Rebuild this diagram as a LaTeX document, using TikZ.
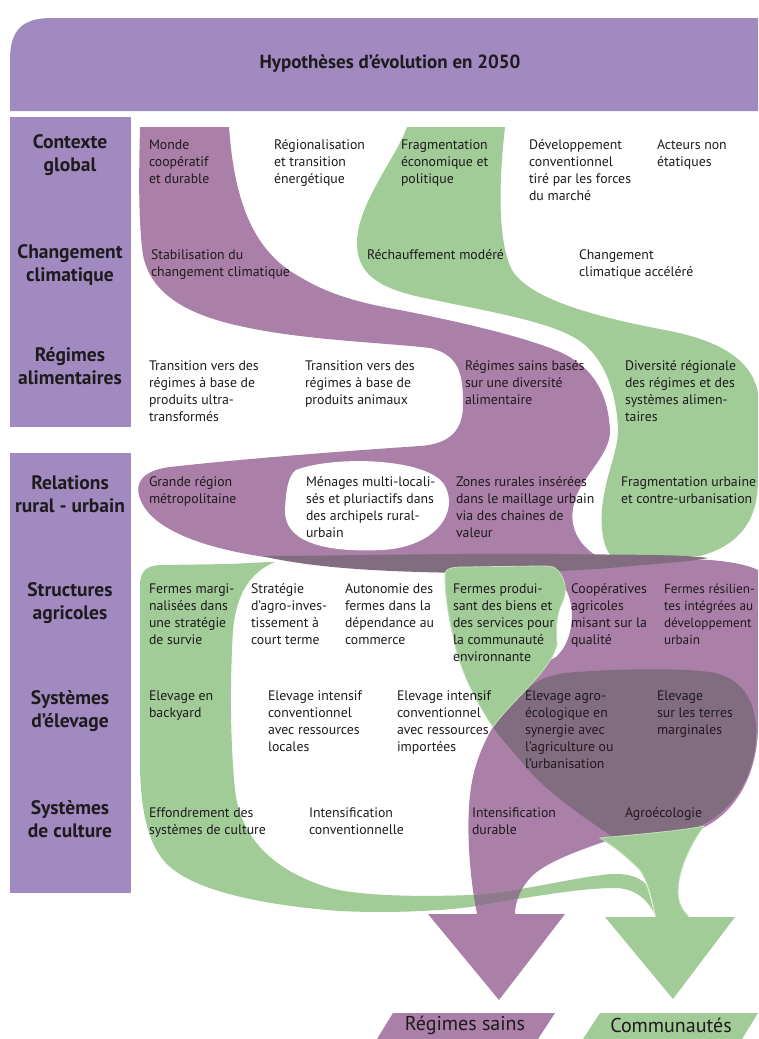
\documentclass[tikz,border=0pt]{standalone}
\usepackage{fontspec}
\setmainfont{PT Sans}
\definecolor{hdr}{HTML}{A08ABF}
\definecolor{pur}{HTML}{AA7FA8}
\definecolor{grn}{HTML}{A1CB97}
\definecolor{grnl}{HTML}{C3E0BA}
\definecolor{drk}{HTML}{826D80}
\definecolor{cross}{HTML}{8E7A8C}
\definecolor{ink}{HTML}{1E1A1E}
\newcommand{\tl}[1]{\begin{tabular}[t]{@{}l@{}}#1\end{tabular}}
\newcommand{\tcn}[1]{\begin{tabular}[t]{@{}c@{}}#1\end{tabular}}
% flow shapes (pixel coordinates, y downwards)
\def\pGone{(407,127) -- (505,127)
 .. controls (499,180) and (497,240) .. (512,270)
 .. controls (530,300) and (600,318) .. (670,331)
 .. controls (720,341) and (752,360) .. (758,393)
 -- (758,480)
 .. controls (758,520) and (740,545) .. (700,556)
 -- (612,557)
 .. controls (600,545) and (600,515) .. (604,495)
 .. controls (608,470) and (618,450) .. (618,430)
 .. controls (617,395) and (605,355) .. (575,338)
 .. controls (545,320) and (480,310) .. (420,297)
 .. controls (380,288) and (358,275) .. (357,245)
 .. controls (356,205) and (395,160) .. (407,127) -- cycle}
\def\pPone{(140,127) -- (229,127)
 .. controls (234,195) and (250,250) .. (300,277)
 .. controls (330,295) and (360,303) .. (400,310)
 .. controls (450,320) and (520,335) .. (560,352)
 .. controls (595,368) and (608,395) .. (610,430)
 .. controls (611,450) and (590,470) .. (579,490)
 .. controls (568,512) and (568,540) .. (600,558)
 -- (560,563)
 .. controls (480,566) and (360,566) .. (290,560)
 .. controls (220,553) and (160,535) .. (143,505)
 .. controls (130,482) and (145,470) .. (170,467)
 .. controls (250,458) and (360,450) .. (420,446)
 .. controls (450,444) and (463,430) .. (463,405)
 .. controls (463,375) and (460,355) .. (430,348)
 .. controls (390,343) and (300,340) .. (240,326)
 .. controls (180,313) and (150,290) .. (143,255)
 .. controls (138,220) and (139,170) .. (140,127) -- cycle}
\def\pHole{(296,470) .. controls (335,455) and (430,458) .. (445,486)
 .. controls (459,512) and (436,547) .. (382,550)
 .. controls (320,553) and (284,540) .. (285,510)
 .. controls (286,490) and (288,476) .. (296,470) -- cycle}
\def\pLow{(556,568) -- (600,568)
 .. controls (640,566) and (680,558) .. (710,560)
 .. controls (735,562) and (750,566) .. (758,570)
 -- (758,725)
 .. controls (758,775) and (735,815) .. (698,830)
 .. controls (670,836) and (640,838) .. (612,839)
 .. controls (580,850) and (545,862) .. (530,878)
 .. controls (518,892) and (515,905) .. (515,914)
 -- (477,914)
 .. controls (470,880) and (466,830) .. (470,795)
 .. controls (473,765) and (485,740) .. (493,727)
 .. controls (500,705) and (530,670) .. (556,657)
 .. controls (575,640) and (575,605) .. (566,590)
 .. controls (560,580) and (556,572) .. (556,568) -- cycle}
\def\pDark{(500,712) .. controls (520,690) and (540,676) .. (565,673)
 .. controls (620,668) and (690,668) .. (715,673)
 .. controls (745,680) and (757,705) .. (756,735)
 .. controls (755,775) and (735,810) .. (698,827)
 .. controls (670,833) and (640,835) .. (613,837)
 .. controls (580,815) and (545,790) .. (527,768)
 .. controls (512,750) and (500,738) .. (493,727) -- cycle}
\def\pStripe{(262,556) .. controls (330,556) and (450,553) .. (560,554)
 .. controls (620,555) and (680,554) .. (708,558)
 .. controls (690,562) and (650,564) .. (610,568)
 .. controls (560,572) and (480,574) .. (420,572)
 .. controls (350,570) and (300,565) .. (262,556) -- cycle}
\def\pGtwo{(140,585) .. controls (140,570) and (148,565) .. (162,565)
 -- (230,564) .. controls (250,563) and (265,562) .. (275,562)
 .. controls (250,572) and (236,595) .. (233,630)
 .. controls (230,680) and (230,740) .. (235,790)
 .. controls (240,835) and (270,870) .. (330,888)
 .. controls (360,896) and (420,897) .. (470,895)
 .. controls (520,892) and (570,878) .. (610,874)
 .. controls (625,873) and (638,876) .. (646,884)
 .. controls (650,895) and (652,905) .. (654,913)
 .. controls (645,895) and (630,888) .. (615,888)
 .. controls (580,888) and (530,897) .. (470,907)
 .. controls (430,912) and (380,913) .. (340,911)
 .. controls (260,905) and (190,890) .. (165,862)
 .. controls (145,840) and (140,800) .. (140,760) -- cycle}
\def\pGthree{(445,575) .. controls (445,568) and (452,567) .. (465,567)
 -- (540,566) .. controls (548,566) and (552,566) .. (555,568)
 .. controls (566,576) and (568,592) .. (562,603)
 .. controls (556,615) and (556,630) .. (557,645)
 .. controls (550,672) and (512,700) .. (493,727)
 .. controls (478,705) and (462,675) .. (455,645)
 .. controls (448,615) and (445,595) .. (445,575) -- cycle}
\def\pGfour{(600,838) .. controls (640,834) and (680,831) .. (704,826)
 .. controls (690,845) and (678,870) .. (678,893)
 .. controls (678,905) and (685,913) .. (690,918)
 -- (656,918)
 .. controls (653,905) and (650,885) .. (640,870)
 .. controls (625,855) and (612,845) .. (600,838) -- cycle}
\tikzset{
 txt/.style={anchor=base west, inner sep=0pt, outer sep=0pt, text=ink,
   font=\fontsize{13.8}{17}\selectfont},
 lab/.style={anchor=base, inner sep=0pt, outer sep=0pt, text=ink,
   font=\fontsize{19.5}{23}\selectfont\bfseries},
 box/.style={fill=hdr, draw=none},
 big/.style={inner sep=0pt, text=ink, font=\fontsize{20}{24}\selectfont}
}
\begin{document}
\begin{tikzpicture}[x=1pt,y=-1pt]
\useasboundingbox (0,0) rectangle (758,1039);
% header and row labels
\fill[box] (10,111) -- (10,60) .. controls (10,30) and (22,18) .. (52,18) -- (758,18) -- (758,111) -- cycle;
\node[inner sep=0pt, text=ink, font=\fontsize{19}{22}\selectfont\bfseries] (title) at (390,64) {Hypothèses d’évolution en 2050};
\fill[box] (10,117) rectangle (131,427);
\fill[box] (10,453) rectangle (131,893);
\node[lab] (l1) at (70,148) {\tcn{Contexte\\global}};
\node[lab] (l2) at (70,258) {\tcn{Changement\\climatique}};
\node[lab] (l3) at (70,361) {\tcn{Régimes\\alimentaires}};
\node[lab] (l4) at (70,489) {\tcn{Relations\\rural - urbain}};
\node[lab] (l5) at (70,596) {\tcn{Structures\\agricoles}};
\node[lab] (l6) at (70,704) {\tcn{Systèmes\\d’élevage}};
\node[lab] (l7) at (70,814) {\tcn{Systèmes\\de culture}};
% flows
\fill[grn] \pGone;
\fill[pur] \pPone;
\fill[white] \pHole;
\fill[pur] \pLow;
\fill[drk] \pDark;
\fill[drk] \pStripe;
\fill[grn] \pGtwo;
\begin{scope}
 \clip \pGtwo;
 \fill[cross] \pLow;
\end{scope}
\filldraw[fill=grn, draw=grnl, line width=0.8pt] \pGthree;
\filldraw[fill=grn, draw=grnl, line width=0.8pt] \pGfour;
\fill[pur] (428,914) -- (565,914) -- (499,1000) -- cycle;
\fill[grn] (605,917) -- (735,917) -- (673,999) -- cycle;
% outcome labels
\fill[pur] (377,1039) -- (393,1013) -- (555,1013) -- (538,1039) -- cycle;
\fill[grn] (583,1039) -- (600,1013) -- (758,1013) -- (742,1039) -- cycle;
\node[big] (o1) at (465,1025) {Régimes sains};
\node[big] (o2) at (671,1025) {Communautés};
% row 1
\node[txt] (a1) at (149,149) {\tl{Monde\\coopératif\\et durable}};
\node[txt] (a2) at (274,149) {\tl{Régionalisation\\et transition\\énergétique}};
\node[txt] (a3) at (401,149) {\tl{Fragmentation\\économique et\\politique}};
\node[txt] (a4) at (529,149) {\tl{Développement\\conventionnel\\tiré par les forces\\du marché}};
\node[txt] (a5) at (657,149) {\tl{Acteurs non\\étatiques}};
% row 2
\node[txt] (b1) at (151,259) {\tl{Stabilisation du\\changement climatique}};
\node[txt] (b2) at (367,259) {\tl{Réchauffement modéré}};
\node[txt] (b3) at (579,259) {\tl{Changement\\climatique accéléré}};
% row 3
\node[txt] (c1) at (149,370) {\tl{Transition vers des\\régimes à base de\\produits ultra-\\transformés}};
\node[txt] (c2) at (305,370) {\tl{Transition vers des\\régimes à base de\\produits animaux}};
\node[txt] (c3) at (465,370) {\tl{Régimes sains basés\\sur une diversité\\alimentaire}};
\node[txt] (c4) at (625,370) {\tl{Diversité régionale\\des régimes et des\\systèmes alimen-\\taires}};
% row 4
\node[txt] (d1) at (149,486) {\tl{Grande région\\métropolitaine}};
\node[txt] (d2) at (306,486) {\tl{Ménages multi-locali-\\sés et pluriactifs dans\\des archipels rural-\\urbain}};
\node[txt] (d3) at (456,486) {\tl{Zones rurales insérées\\dans le maillage urbain\\via des chaines de\\valeur}};
\node[txt] (d4) at (621,486) {\tl{Fragmentation urbaine\\et contre-urbanisation}};
% row 5
\node[txt] (e1) at (149,593) {\tl{Fermes margi-\\nalisées dans\\une stratégie\\de survie}};
\node[txt] (e2) at (251,593) {\tl{Stratégie\\d’agro-inves-\\tissement à\\court terme}};
\node[txt] (e3) at (345,593) {\tl{Autonomie des\\fermes dans la\\dépendance au\\commerce}};
\node[txt] (e4) at (453,593) {\tl{Fermes produi-\\sant des biens et\\des services pour\\la communauté\\environnante}};
\node[txt] (e5) at (571,593) {\tl{Coopératives\\agricoles\\misant sur la\\qualité}};
\node[txt, font=\fontsize{13.2}{17}\selectfont] (e6) at (664,593) {\tl{Fermes résilien-\\tes intégrées au\\développement\\urbain}};
% row 6
\node[txt] (f1) at (149,700) {\tl{Elevage en\\backyard}};
\node[txt] (f2) at (268,700) {\tl{Elevage intensif\\conventionnel\\avec ressources\\locales}};
\node[txt] (f3) at (397,700) {\tl{Elevage intensif\\conventionnel\\avec ressources\\importées}};
\node[txt] (f4) at (525,700) {\tl{Elevage agro-\\écologique en\\synergie avec\\l’agriculture ou\\l’urbanisation}};
\node[txt] (f5) at (657,700) {\tl{Elevage\\sur les terres\\marginales}};
% row 7
\node[txt] (g1) at (149,817) {\tl{Effondrement des\\systèmes de culture}};
\node[txt] (g2) at (309,817) {\tl{Intensification\\conventionnelle}};
\node[txt] (g3) at (472,817) {\tl{Intensification\\durable}};
\node[txt] (g4) at (625,817) {\tl{Agroécologie}};
\end{tikzpicture}
\end{document}
